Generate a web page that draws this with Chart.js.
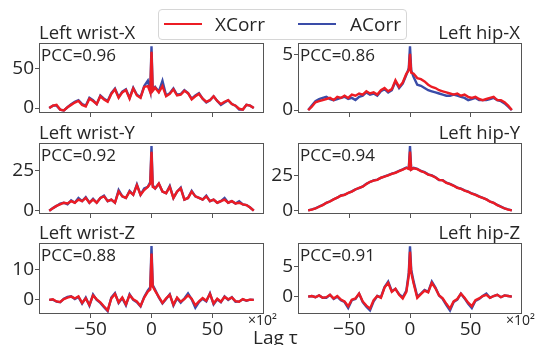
<!DOCTYPE html>
<html>
<head>
<meta charset="utf-8">
<script src="https://cdn.jsdelivr.net/npm/chart.js@4.4.0/dist/chart.umd.min.js"></script>
<style>
  html, body { margin: 0; padding: 0; background: #fff; }
  body { width: 538px; height: 345px; position: relative; overflow: hidden; font-family: 'Open Sans', sans-serif; color: #262626; }
  canvas { position: absolute; }
  #legend { position: absolute; left: 158px; top: 9px; width: 247px; height: 29px; border: 1px solid #d6d6d6; border-radius: 4px; background: rgba(255,255,255,0.85); }
  #legend .line { position: absolute; top: 13px; width: 38px; height: 2px; }
  #legend .lbl { position: absolute; top: 0; font-size: 19px; line-height: 29px; }
  #xlabel { position: absolute; left: 253px; top: 328px; font-size: 19px; line-height: 19px; white-space: nowrap; }
</style>
</head>
<body>
<canvas id="p0"></canvas>
<canvas id="p1"></canvas>
<canvas id="p2"></canvas>
<canvas id="p3"></canvas>
<canvas id="p4"></canvas>
<canvas id="p5"></canvas>
<div id="legend">
  <div class="line" style="left:5px; background:#ec1c24;"></div>
  <div class="lbl" style="left:56px;">XCorr</div>
  <div class="line" style="left:139px; background:#3a4ca8;"></div>
  <div class="lbl" style="left:191px;">ACorr</div>
</div>
<div id="xlabel">Lag τ</div>
<script>
// lag values (x10^2)
const lags = [-84,-81,-78,-75,-72,-69,-66,-63,-60,-57,-54,-51,-48,-45,-42,-39,-36,-33,-30,-27,-24,-21,-18,-15,-12,-9,-6,-3,-1,0,1,3,6,9,12,15,18,21,24,27,30,33,36,39,42,45,48,51,54,57,60,63,66,69,72,75,78,81,84];
const xTicks = [-50, 0, 50];

const titles = ['Left wrist-X', 'Left hip-X', 'Left wrist-Y', 'Left hip-Y', 'Left wrist-Z', 'Left hip-Z'];
const pccValues = ['0.96', '0.86', '0.92', '0.94', '0.88', '0.91'];

const wristXXCorr = [0,3,4,-2,-3,1,4,7,9,4,2,12,9,5,15,11,8,18,24,13,20,23,12,25,16,13,27,28,20,72,22,26,20,28,15,18,24,16,17,22,19,11,15,18,12,8,10,15,9,5,8,10,5,3,-1,-2,4,3,0];
const wristXACorr = [0,3,3,-2,-3,1,5,8,10,5,3,13,10,5,16,12,9,19,25,14,21,24,13,26,17,14,28,35,22,79,23,27,21,35,16,19,25,17,18,23,19,12,16,19,12,7,10,15,9,4,7,10,5,3,-2,-2,4,3,0];

const hipXXCorr = [0,0.3,0.7,0.8,0.9,1.0,1.1,0.9,1.2,1.1,1.3,1.1,1.4,1.3,1.5,1.4,1.7,1.5,1.6,1.4,1.8,2.0,1.7,1.9,2.7,2.1,2.5,3.3,3.6,5.1,3.4,3.3,2.9,2.8,2.6,2.3,2.1,2.0,1.8,1.7,1.6,1.5,1.4,1.5,1.3,1.4,1.2,1.1,1.2,1.0,0.9,1.0,1.1,1.2,0.9,0.9,0.7,0.4,0];
const hipXACorr = [0,0.4,0.8,1.0,1.1,1.2,1.0,0.9,1.0,1.1,1.2,1.0,1.1,0.9,1.2,1.3,1.6,1.4,1.5,1.3,1.7,1.9,1.6,1.8,2.6,2.0,2.4,3.2,3.8,5.8,3.6,3.0,2.3,2.2,2.0,1.8,1.7,1.6,1.5,1.4,1.3,1.3,1.4,1.3,1.2,1.1,0.9,1.0,1.1,0.9,0.9,0.9,1.0,1.1,0.9,0.8,0.6,0.3,0];

const wristYXCorr = [0,1.5,3,4,5,4.5,6,5,7,6,8,5,7,5,8,9,6,7,5,12,9,8,12,10,16,10,13,15,17,37,15,14,17,12,11,15,8,12,14,7,8,12,9,8,7,9,6,7,5,6,7,5,6,4.5,5,4,3.5,2,0];
const wristYACorr = [0,1.6,3,4.5,5,4,6.5,5,8,6,8.5,5,7.5,5,8,9.5,6,7,5,13,9,8,12.5,10,16.5,10,14,15,18,40.7,16,14,17,12,11,15.5,8,12,14.5,7,8,12.5,9,8,7,9.5,6,7,5,6,8,5,6,4.5,6,4,3.5,2,0];

const hipYXCorr = [0.3,0.8,1.6,2.8,4.0,5.6,6.5,8.0,9.3,10.6,11.2,12.6,13.5,15.0,16.2,17.0,18.8,20.4,21.2,21.8,23.3,24.0,25.0,26.0,26.8,28.0,29.0,30.2,29.5,41.7,29.0,30.0,29.4,28.0,27.0,25.5,24.8,23.5,21.8,21.4,19.6,18.8,17.6,16.2,15.5,14.2,13.4,12.0,11.2,10.0,9.0,8.0,6.4,5.5,4.0,2.8,1.6,0.8,0.3];
const hipYACorr = [0.3,0.9,1.7,3.0,4.1,5.5,6.7,8.1,9.2,10.8,11.3,12.5,13.7,15.1,16.0,17.2,19.0,20.3,21.4,22.0,23.2,24.2,25.1,26.2,26.9,28.2,29.2,30.5,29.8,45.7,29.2,30.3,29.6,28.1,27.2,25.7,24.9,23.6,21.6,21.6,19.8,18.9,17.8,16.3,15.6,14.4,13.5,12.2,11.3,10.1,9.1,8.1,6.5,5.6,4.1,2.9,1.7,0.9,0.3];

const wristZXCorr = [0,0.2,-0.5,-0.7,0.3,0.8,1.1,0.5,1.2,-1.0,0.5,-1.7,1.5,0.2,-0.8,-2.2,-3.5,0.5,2.0,-0.8,0.8,-1.5,1.6,0.2,-0.5,-2.0,0.8,2.8,3.5,15.5,4.5,3.0,1.0,-1.0,0.5,1.7,-1.6,0.8,-0.6,0.3,1.5,0.4,-1.8,-0.5,0.6,-0.3,2.0,-1.2,0.4,-0.6,1.0,0.2,0.8,-0.4,-0.6,0.3,-0.2,0.1,0];
const wristZACorr = [0,0.1,-0.6,-0.8,0.4,1.0,1.2,0.3,1.0,-1.2,0.8,-1.9,1.8,0.0,-1.0,-2.4,-3.7,0.8,2.3,-1.0,0.6,-1.8,1.9,0.0,-0.8,-2.2,1.0,3.2,4.2,18.0,5.0,3.4,0.8,-1.2,0.3,1.9,-1.9,0.6,-0.9,0.5,2.2,0.2,-2.6,-0.7,0.4,-0.5,2.2,-1.5,0.2,-0.8,1.2,0.0,0.9,-0.6,-0.5,0.2,-0.3,0.1,0];

const hipZXCorr = [0,0.1,-0.1,0.2,-0.2,-0.1,0.3,-0.3,0.1,-0.5,-0.8,-1.6,-0.5,-0.3,0.5,-0.8,-1.5,-2.0,-0.6,0.1,-0.2,1.5,2.3,0.8,1.3,0.3,-0.3,0.8,3.5,7.5,4.0,2.2,-0.2,0.4,1.0,0.7,2.3,1.4,0.2,-0.3,-1.2,-2.0,-0.8,-0.4,0.5,-0.2,-1.0,-1.6,-0.6,-0.3,0.1,0.3,-0.2,0.1,0.3,-0.1,0.2,0.1,0];
const hipZACorr = [0,0.1,-0.1,0.2,-0.2,-0.2,0.3,-0.4,0.0,-0.6,-0.9,-1.9,-0.6,-0.4,0.5,-0.9,-1.7,-2.3,-0.8,0.1,-0.1,1.6,2.5,0.9,1.3,0.4,-0.1,1.0,4.0,8.4,4.5,2.5,0.0,0.5,1.1,0.8,2.5,1.5,0.2,-0.4,-1.4,-2.3,-0.9,-0.5,0.5,-0.3,-1.2,-1.9,-0.7,-0.4,0.1,0.5,-0.2,0.1,0.3,-0.1,0.2,0.1,0];

const yTickSets = [[0, 50], [0, 5], [0, 25], [0, 25], [0, 10], [0, 5]];
const yRanges = [[-6.4, 83.3], [-0.27, 6.09], [-2.1, 42.6], [-2.3, 47.8], [-4.7, 19], [-2.9, 8.95]];

const RED = '#ec1c24';
const BLUE = '#3a4ca8';
const TEXT = '#262626';
const FRAME = '#555555';
const FONT = "'Open Sans', sans-serif";

// layout of the 3x2 grid
const cols = [
    { left: 0, width: 290, axisW: 39, boxRight: 264, titleAlign: 'left' },
    { left: 269, width: 269, axisW: 29, boxRight: 522, titleAlign: 'right' }
];
const rows = [
    { boxTop: 43, boxH: 70 },
    { boxTop: 143, boxH: 71 },
    { boxTop: 243, boxH: 71 }
];
const PAD_TOP = 34;

const seriesPairs = [
    [wristXXCorr, wristXACorr], [hipXXCorr, hipXACorr],
    [wristYXCorr, wristYACorr], [hipYXCorr, hipYACorr],
    [wristZXCorr, wristZACorr], [hipZXCorr, hipZACorr]
];

function fmt(v) {
    return v < 0 ? '\u2212' + Math.abs(v) : String(v);
}

const panelText = {
    id: 'panelText',
    afterDraw(chart, args, opts) {
        const { ctx, chartArea: a } = chart;
        ctx.save();
        // frame
        ctx.strokeStyle = FRAME;
        ctx.lineWidth = 1;
        ctx.strokeRect(Math.round(a.left) + 0.5, Math.round(a.top) + 0.5,
            Math.round(a.right - a.left) - 1, Math.round(a.bottom - a.top) - 1);
        ctx.fillStyle = TEXT;
        ctx.textBaseline = 'alphabetic';
        // subplot title
        ctx.font = '18.5px ' + FONT;
        if (opts.align === 'left') {
            ctx.textAlign = 'left';
            ctx.fillText(opts.title, a.left, a.top - 4);
        } else {
            ctx.textAlign = 'right';
            ctx.fillText(opts.title, a.right - 2, a.top - 4);
        }
        // PCC annotation
        ctx.textAlign = 'left';
        ctx.font = '17px ' + FONT;
        ctx.fillText('PCC=' + opts.pcc, a.left + 2, a.top + 17.5);
        // x offset text
        if (opts.offset) {
            ctx.font = '14px ' + FONT;
            ctx.fillText('\u00d710\u00b2', a.right - 16, a.bottom + 11);
        }
        ctx.restore();
    }
};

titles.forEach((title, i) => {
    const col = cols[i % 2];
    const rowIdx = Math.floor(i / 2);
    const row = rows[rowIdx];
    const lastRow = rowIdx === rows.length - 1;
    const xAxisH = lastRow ? 26 : 6;
    const canvas = document.getElementById('p' + i);
    canvas.width = col.width;
    canvas.height = PAD_TOP + row.boxH + xAxisH;
    canvas.style.left = col.left + 'px';
    canvas.style.top = (row.boxTop - PAD_TOP) + 'px';

    const [xc, ac] = seriesPairs[i];

    new Chart(canvas, {
        type: 'line',
        data: {
            datasets: [
                { label: 'XCorr', data: lags.map((x, k) => ({ x: x, y: xc[k] })), borderColor: RED, borderWidth: 2.4, pointRadius: 0, tension: 0 },
                { label: 'ACorr', data: lags.map((x, k) => ({ x: x, y: ac[k] })), borderColor: BLUE, borderWidth: 2.4, pointRadius: 0, tension: 0 }
            ]
        },
        options: {
            responsive: false,
            animation: false,
            devicePixelRatio: 1,
            events: [],
            layout: {
                autoPadding: false,
                padding: { top: PAD_TOP, left: 0, bottom: 0, right: col.width - (col.boxRight - col.left) }
            },
            plugins: {
                legend: { display: false },
                tooltip: { enabled: false },
                panelText: { title: title, pcc: pccValues[i], align: col.titleAlign, offset: lastRow }
            },
            scales: {
                x: {
                    type: 'linear',
                    min: -92.4,
                    max: 92.4,
                    afterBuildTicks: s => { s.ticks = xTicks.map(v => ({ value: v })); },
                    afterFit: s => { s.height = xAxisH; s.paddingLeft = s.paddingRight = s.paddingTop = s.paddingBottom = 0; },
                    grid: { drawOnChartArea: false, drawTicks: true, tickLength: 4, color: FRAME },
                    border: { display: false },
                    ticks: { display: lastRow, autoSkip: false, maxRotation: 0, padding: 0, color: TEXT, font: { family: FONT, size: 19 }, callback: v => fmt(v) }
                },
                y: {
                    min: yRanges[i][0],
                    max: yRanges[i][1],
                    afterBuildTicks: s => { s.ticks = yTickSets[i].map(v => ({ value: v })); },
                    afterFit: s => { s.width = col.axisW; s.paddingLeft = s.paddingRight = s.paddingTop = s.paddingBottom = 0; },
                    grid: { drawOnChartArea: false, drawTicks: true, tickLength: 4, color: FRAME },
                    border: { display: false },
                    ticks: { autoSkip: false, padding: 1, color: TEXT, font: { family: FONT, size: 19 }, callback: v => fmt(v) }
                }
            }
        },
        plugins: [panelText]
    });
});
</script>
</body>
</html>
